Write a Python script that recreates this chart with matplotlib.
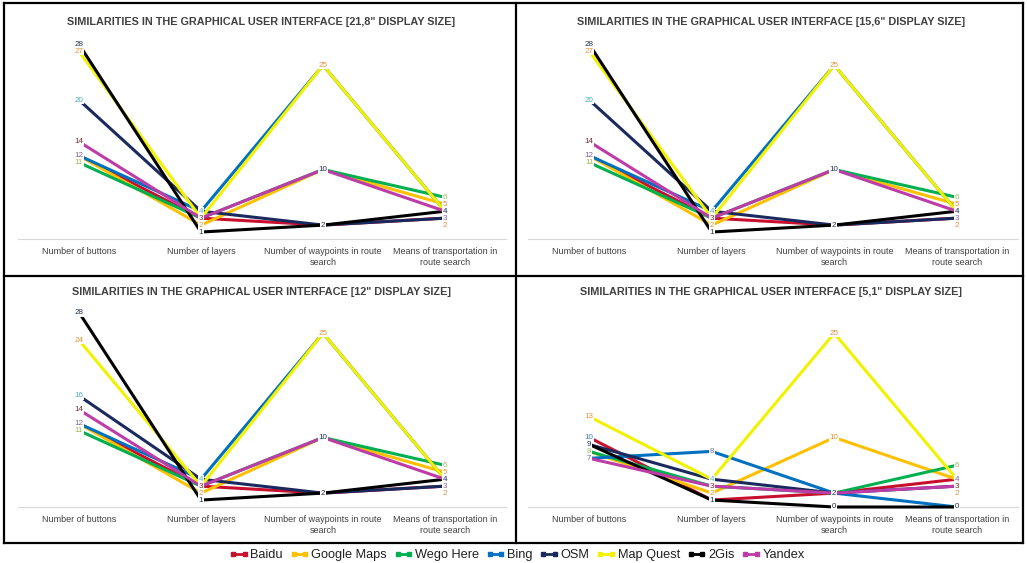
import matplotlib
matplotlib.use('Agg')
import matplotlib.pyplot as plt
from matplotlib.lines import Line2D

plt.rcParams['font.family'] = ['Liberation Sans', 'DejaVu Sans']

categories = ['Number of buttons', 'Number of layers',
              'Number of waypoints in route\nsearch',
              'Means of transportation in\nroute search']
series_names = ['Baidu', 'Google Maps', 'Wego Here', 'Bing', 'OSM',
                'Map Quest', '2Gis', 'Yandex']

# rows follow series_names, columns follow categories
values_21_8 = [
    [12, 3, 2, 3],
    [12, 2, 10, 5],
    [11, 3, 10, 6],
    [12, 4, 25, 4],
    [20, 4, 2, 3],
    [27, 3, 25, 4],
    [28, 1, 2, 4],
    [14, 3, 10, 4],
]
values_15_6 = [
    [12, 3, 2, 3],
    [12, 2, 10, 5],
    [11, 3, 10, 6],
    [12, 4, 25, 4],
    [20, 4, 2, 3],
    [27, 3, 25, 4],
    [28, 1, 2, 4],
    [14, 3, 10, 4],
]
values_12 = [
    [12, 3, 2, 3],
    [12, 2, 10, 5],
    [11, 3, 10, 6],
    [12, 4, 25, 4],
    [16, 4, 2, 3],
    [24, 3, 25, 4],
    [28, 1, 2, 4],
    [14, 3, 10, 4],
]
values_5_1 = [
    [10, 1, 2, 4],
    [8, 2, 10, 4],
    [8, 3, 2, 6],
    [7, 8, 2, 0],
    [9, 4, 2, 3],
    [13, 4, 25, 4],
    [9, 1, 0, 0],
    [7, 3, 2, 3],
]

# data labels shown on each category (one per distinct value)
labels_21_8 = [[28, 27, 20, 14, 12, 11], [4, 3, 2, 1], [25, 10, 2], [6, 5, 4, 3, 2]]
labels_15_6 = [[28, 27, 20, 14, 12, 11], [4, 3, 2, 1], [25, 10, 2], [6, 5, 4, 3, 2]]
labels_12 = [[28, 24, 16, 14, 12, 11], [4, 3, 2, 1], [25, 10, 2], [6, 5, 4, 3, 2]]
labels_5_1 = [[13, 10, 9, 8, 7], [8, 4, 3, 2, 1], [25, 10, 2, 0], [6, 4, 3, 2, 0]]

titles = ['SIMILARITIES IN THE GRAPHICAL USER INTERFACE [21,8" DISPLAY SIZE]',
          'SIMILARITIES IN THE GRAPHICAL USER INTERFACE [15,6" DISPLAY SIZE]',
          'SIMILARITIES IN THE GRAPHICAL USER INTERFACE [12" DISPLAY SIZE]',
          'SIMILARITIES IN THE GRAPHICAL USER INTERFACE [5,1" DISPLAY SIZE]']

# ---- styles ----
series_colors = ['#C8102E', '#FFC000', '#00B050', '#0070C0', '#1B2A5E',
                 '#F2F200', '#000000', '#BE3CA8']
theme = {'N': '#1F2F4F', 'O': '#E8903A', 'A': '#4BACC6', 'M': '#7F2A2A',
         'P': '#8064A2', 'G': '#9BBB59', 'B': '#3F7FC0'}
lblc_21_8 = [list('NOAMPG'), list('AMON'), list('ONN'), list('GONPO')]
lblc_15_6 = [list('NOAMPG'), list('AMON'), list('ONN'), list('GONPO')]
lblc_12 = [list('NOAMPG'), list('AMON'), list('ONN'), list('GONPO')]
lblc_5_1 = [list('OBNGP'), list('PAMON'), list('OONN'), list('GPMON')]

W, H = 1027, 563
fig = plt.figure(figsize=(W / 100, H / 100), dpi=100)


def rect(l, r, top, bot):
    return [l / W, 1 - bot / H, (r - l) / W, (bot - top) / H]


panels = [
    (values_21_8, labels_21_8, lblc_21_8, rect(18, 506, 30.5, 239), (261, 22)),
    (values_15_6, labels_15_6, lblc_15_6, rect(528, 1018, 30.5, 239), (771, 22)),
    (values_12, labels_12, lblc_12, rect(18, 506, 298.5, 507), (261, 292)),
    (values_5_1, labels_5_1, lblc_5_1, rect(528, 1018, 298.5, 507), (771, 292)),
]

for k, (vals, lbls, lcols, r, tpos) in enumerate(panels):
    ax = fig.add_axes(r)
    x = list(range(len(categories)))
    for i, row in enumerate(vals):
        ax.plot(x, row, color=series_colors[i], lw=2.2, solid_capstyle='butt',
                clip_on=False, zorder=2 + i * 0.01)
    for ci, (vl, cl) in enumerate(zip(lbls, lcols)):
        for v, c in zip(vl, cl):
            ax.text(ci, v, str(v), ha='center', va='center', fontsize=5.8,
                    color=theme[c], zorder=5,
                    bbox=dict(boxstyle='square,pad=0.08', fc='white', ec='none'))
    ax.set_xlim(-0.5, 3.5)
    ax.set_ylim(0, 30)
    ax.set_xticks(x)
    ax.set_xticklabels(categories, fontsize=6.5, color='#404040')
    ax.tick_params(axis='x', length=0, pad=6)
    ax.set_yticks([])
    for s in ['left', 'right', 'top']:
        ax.spines[s].set_visible(False)
    ax.spines['bottom'].set_color('#D9D9D9')
    ax.spines['bottom'].set_linewidth(0.8)
    ax.spines['bottom'].set_zorder(1)
    ax.patch.set_alpha(0)
    fig.text(tpos[0] / W, 1 - tpos[1] / H, titles[k], ha='center', va='center',
             fontsize=7.8, fontweight='bold', color='#404040')

# panel borders
def fline(x0, y0, x1, y1):
    fig.add_artist(Line2D([x0 / W, x1 / W], [1 - y0 / H, 1 - y1 / H],
                          color='black', lw=1.6, transform=fig.transFigure))

fline(4, 3, 1023, 3)
fline(4, 276, 1023, 276)
fline(4, 543, 1023, 543)
fline(4, 3, 4, 543)
fline(516, 3, 516, 543)
fline(1023, 3, 1023, 543)

handles = [Line2D([0], [0], color=c, lw=2, marker='s', markersize=3.5)
           for c in series_colors]
fig.legend(handles, series_names, loc='center', bbox_to_anchor=(517 / W, 1 - 555 / H),
           ncol=8, frameon=False, fontsize=9.2, handlelength=1.5, numpoints=2,
           columnspacing=0.55, handletextpad=0.15, labelcolor='#202020')

fig.savefig('out.png', dpi=100)
